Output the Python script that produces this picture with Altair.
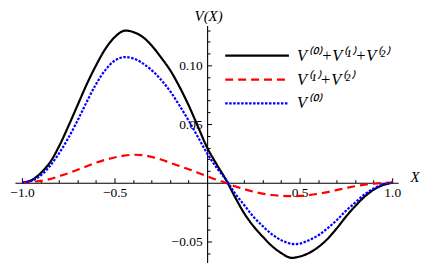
import altair as alt
import pandas as pd

# ---- data (X step 0.05) ----
x_vals = [-1.0, -0.95, -0.9, -0.85, -0.8, -0.75, -0.7, -0.65, -0.6, -0.55, -0.5, -0.45, -0.4,
          -0.35, -0.3, -0.25, -0.2, -0.15, -0.1, -0.05, 0.0, 0.05, 0.1, 0.15, 0.2, 0.25, 0.3,
          0.35, 0.4, 0.45, 0.5, 0.55, 0.6, 0.65, 0.7, 0.75, 0.8, 0.85, 0.9, 0.95, 1.0]
v_total = [0.0, 0.002, 0.008, 0.017, 0.031, 0.048, 0.066, 0.084, 0.100, 0.114, 0.124, 0.1295, 0.1285,
           0.1245, 0.117, 0.107, 0.096, 0.082, 0.066, 0.048, 0.030, 0.016, 0.003, -0.012, -0.026, -0.037, -0.046,
           -0.054, -0.060, -0.064, -0.063, -0.060, -0.055, -0.048, -0.039, -0.029, -0.020, -0.012, -0.006, -0.002, 0.0]
v_corr = [0.0, 0.0004, 0.0015, 0.003, 0.0055, 0.008, 0.011, 0.014, 0.017, 0.0195, 0.0215, 0.023, 0.0238,
          0.0235, 0.022, 0.0198, 0.017, 0.0142, 0.0115, 0.0085, 0.0055, 0.0025, 0.0, -0.003, -0.0055, -0.0077, -0.0093,
          -0.0105, -0.0112, -0.0115, -0.0113, -0.0106, -0.0095, -0.008, -0.0063, -0.0046, -0.003, -0.0018, -0.0009, -0.0003, 0.0]
v_zero = [0.0, 0.0015, 0.006, 0.014, 0.025, 0.038, 0.053, 0.069, 0.084, 0.096, 0.104, 0.107, 0.106,
          0.102, 0.096, 0.088, 0.078, 0.066, 0.053, 0.039, 0.025, 0.013, 0.003, -0.009, -0.019, -0.029, -0.037,
          -0.044, -0.049, -0.052, -0.052, -0.049, -0.045, -0.039, -0.032, -0.024, -0.017, -0.010, -0.005, -0.0015, 0.0]

series_names = ["V⁽⁰⁾+V⁽¹⁾+V⁽²⁾", "V⁽¹⁾+V⁽²⁾", "V⁽⁰⁾"]
series_colors = ["#000000", "#ff0000", "#0000ff"]
series_dashes = [[1, 0], [8, 5], [2.5, 1.5]]
series_widths = [2.2, 2.2, 2.6]

x_major_ticks = [-1.0, -0.5, 0.5, 1.0]
x_minor_ticks = [-0.9, -0.8, -0.7, -0.6, -0.4, -0.3, -0.2, -0.1, 0.1, 0.2, 0.3, 0.4, 0.6, 0.7, 0.8, 0.9]
y_major_ticks = [-0.05, 0.05, 0.10]
y_minor_ticks = [-0.06, -0.04, -0.03, -0.02, -0.01, 0.01, 0.02, 0.03, 0.04,
                 0.06, 0.07, 0.08, 0.09, 0.11, 0.12, 0.13]
x_domain = [-1.038, 1.032]
y_domain = [-0.068, 0.134]

rows = []
for name, ys in zip(series_names, [v_total, v_corr, v_zero]):
    for xv, yv in zip(x_vals, ys):
        rows.append({"X": xv, "V": yv, "series": name})
df = pd.DataFrame(rows)

W, H = 385, 238
FONT = "Liberation Serif"
x0_px = W * (0 - x_domain[0]) / (x_domain[1] - x_domain[0])
y0_px = H * (y_domain[1] - 0) / (y_domain[1] - y_domain[0])

xs = alt.Scale(domain=x_domain, nice=False, zero=False)
ys_ = alt.Scale(domain=y_domain, nice=False, zero=False)

base = alt.Chart(df)

legend_opts = dict(orient="none", legendX=235, legendY=22, title=None,
                   symbolType="M-6.4,0H6.4", symbolSize=100,
                   symbolStrokeWidth=2.4, labelOffset=32, padding=0,
                   labelFont=FONT, labelFontSize=16.5, labelFontStyle="italic",
                   labelColor="black", rowPadding=7, labelLimit=300)

lines = base.mark_line(interpolate="catmull-rom").encode(
    x=alt.X("X:Q", scale=xs, axis=alt.Axis(
        orient="bottom", offset=-(H - y0_px), values=x_major_ticks, format=".1f",
        ticks=False, tickSize=0, domain=False, grid=False, labelPadding=3,
        labelFont=FONT, labelFontSize=13.5, labelColor="black",
        title="X", titleFont=FONT, titleFontSize=15, titleFontStyle="italic",
        titleFontWeight="normal", titleColor="black", titleAngle=0,
        titleX=W + 12, titleY=-1, titleAlign="left", titleBaseline="alphabetic")),
    y=alt.Y("V:Q", scale=ys_, axis=alt.Axis(
        orient="left", offset=-x0_px, values=y_major_ticks, format=".2f",
        ticks=False, tickSize=0, domain=False, grid=False, labelPadding=5,
        labelFont=FONT, labelFontSize=13.5, labelColor="black",
        title="V(X)", titleFont=FONT, titleFontSize=15, titleFontStyle="italic",
        titleFontWeight="normal", titleColor="black", titleAngle=0,
        titleX=1, titleY=-5, titleAlign="center", titleBaseline="alphabetic")),
    color=alt.Color("series:N", scale=alt.Scale(domain=series_names, range=series_colors),
                    sort=series_names, legend=alt.Legend(**legend_opts)),
    strokeDash=alt.StrokeDash("series:N", scale=alt.Scale(domain=series_names, range=series_dashes),
                              sort=series_names, legend=alt.Legend(**legend_opts)),
    strokeWidth=alt.StrokeWidth("series:N", scale=alt.Scale(domain=series_names, range=series_widths),
                                legend=None),
)

def tick_layer_x(values, size, domain):
    return base.mark_point(opacity=0).encode(
        x=alt.X("X:Q", scale=xs, axis=alt.Axis(
            orient="top", offset=-y0_px, values=values, labels=False, ticks=True,
            tickSize=size, tickColor="black", tickWidth=1, domain=domain,
            domainColor="black", domainWidth=1.1, grid=False, title=None)),
        y=alt.Y("V:Q", scale=ys_, axis=None),
    )

def tick_layer_y(values, size, domain):
    return base.mark_point(opacity=0).encode(
        x=alt.X("X:Q", scale=xs, axis=None),
        y=alt.Y("V:Q", scale=ys_, axis=alt.Axis(
            orient="right", offset=-(W - x0_px), values=values, labels=False, ticks=True,
            tickSize=size, tickColor="black", tickWidth=1, domain=domain,
            domainColor="black", domainWidth=1.1, grid=False, title=None)),
    )

chart = alt.layer(
    tick_layer_x(x_minor_ticks, 3, False),
    tick_layer_x(x_major_ticks, 5, True),
    tick_layer_y(y_minor_ticks, 3, False),
    tick_layer_y(y_major_ticks, 4.5, True),
    lines,
).resolve_axis(x="independent", y="independent").properties(
    width=W, height=H,
    autosize=alt.AutoSizeParams(type="none"),
    padding={"left": 7, "top": 17, "right": 30, "bottom": 8},
    background="white",
).configure_view(stroke=None)

chart.save("out.html", embed_options={"renderer": "svg", "actions": False})
